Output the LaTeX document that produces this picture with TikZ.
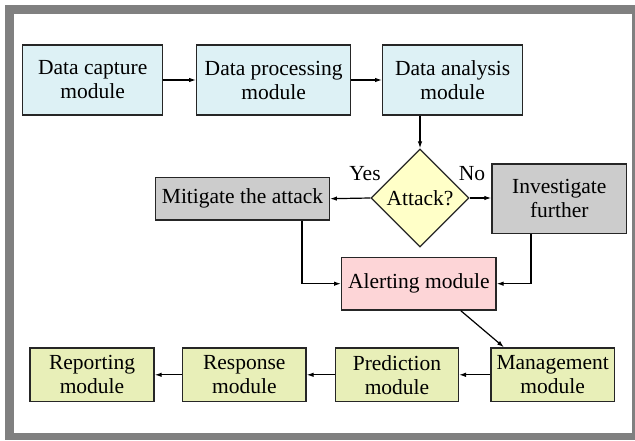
\documentclass[tikz,border=0pt]{standalone}
\usepackage{fontspec}
\setmainfont{Liberation Serif}
\newfontfamily\boxfont{Liberation Serif}
\usetikzlibrary{arrows.meta,shapes.geometric}
\definecolor{frameg}{HTML}{808080}
\definecolor{cyanbox}{HTML}{DDF1F5}
\definecolor{greybox}{HTML}{CCCCCC}
\definecolor{diayel}{HTML}{FFFFC8}
\definecolor{pinkbox}{HTML}{FDD5D7}
\definecolor{greenbox}{HTML}{E8EFB8}
\tikzset{
  box/.style={draw=black!85, line width=1.3pt, inner sep=0pt, align=center,
    font=\boxfont\fontsize{21.5}{24}\selectfont},
  topbox/.style={box, fill=cyanbox, minimum height=70pt},
  botbox/.style={box, fill=greenbox, minimum height=53.7pt},
  conn/.style={line width=1.2pt, -{Latex[length=7pt,width=4.5pt]}},
  lbl/.style={font=\boxfont\fontsize{21.5}{24}\selectfont, inner sep=0pt}
}
\begin{document}
\begin{tikzpicture}[x=1pt,y=-1pt]
\useasboundingbox (0,0) rectangle (635,441);
\begin{scope}
\clip (0,0) rectangle (635,441);
\fill[frameg] (5,5) rectangle (645,440);
\fill[white] (14,14) rectangle (632,433);
\end{scope}
% top row
\node[topbox, minimum width=140pt] (cap) at (92.7,80) {Data capture\\module};
\node[topbox, minimum width=154pt] (proc) at (273.7,80) {Data processing\\module};
\node[topbox, minimum width=140pt] (ana) at (452.7,80) {Data analysis\\module};
% decision
\node[box, diamond, fill=diayel, minimum width=98pt, minimum height=98pt] (dia) at (420,198) {Attack?};
\node[box, fill=greybox, minimum width=173.6pt, minimum height=42.7pt] (mit) at (242.5,198.7) {Mitigate the attack};
\node[box, fill=greybox, minimum width=134.7pt, minimum height=69.3pt] (inv) at (559.3,198.7) {Investigate\\further};
\node[box, fill=pinkbox, minimum width=154.3pt, minimum height=52.7pt] (alert) at (418.8,283.7) {Alerting module};
% bottom row
\node[botbox, minimum width=124pt] (rep) at (92,374.8) {Reporting\\module};
\node[botbox, minimum width=123.3pt] (resp) at (244.3,374.8) {Response\\module};
\node[botbox, minimum width=122.7pt] (pred) at (397,374.8) {Prediction\\module};
\node[botbox, minimum width=123.3pt] (mgmt) at (552.7,374.8) {Management\\module};
% labels
\node[lbl] (yes) at (365,174) {Yes};
\node[lbl] (no) at (472,174) {No};
% connectors
\draw[conn] (cap) -- (proc);
\draw[conn] (proc) -- (ana);
\draw[conn] (ana.south -| dia.north) -- (dia.north);
\draw[conn] (dia.west) -- (mit.east);
\draw[conn] (dia.east) -- (inv.west |- dia.east);
\draw[conn] ([xshift=59.5pt]mit.south) |- (alert.west);
\draw[conn] ([xshift=-28.3pt]inv.south) |- (alert.east);
\draw[conn] ([xshift=42pt]alert.south) -- ([xshift=-48.7pt]mgmt.north);
\draw[conn] (mgmt) -- (pred);
\draw[conn] (pred) -- (resp);
\draw[conn] (resp) -- (rep);
\end{tikzpicture}
\end{document}
